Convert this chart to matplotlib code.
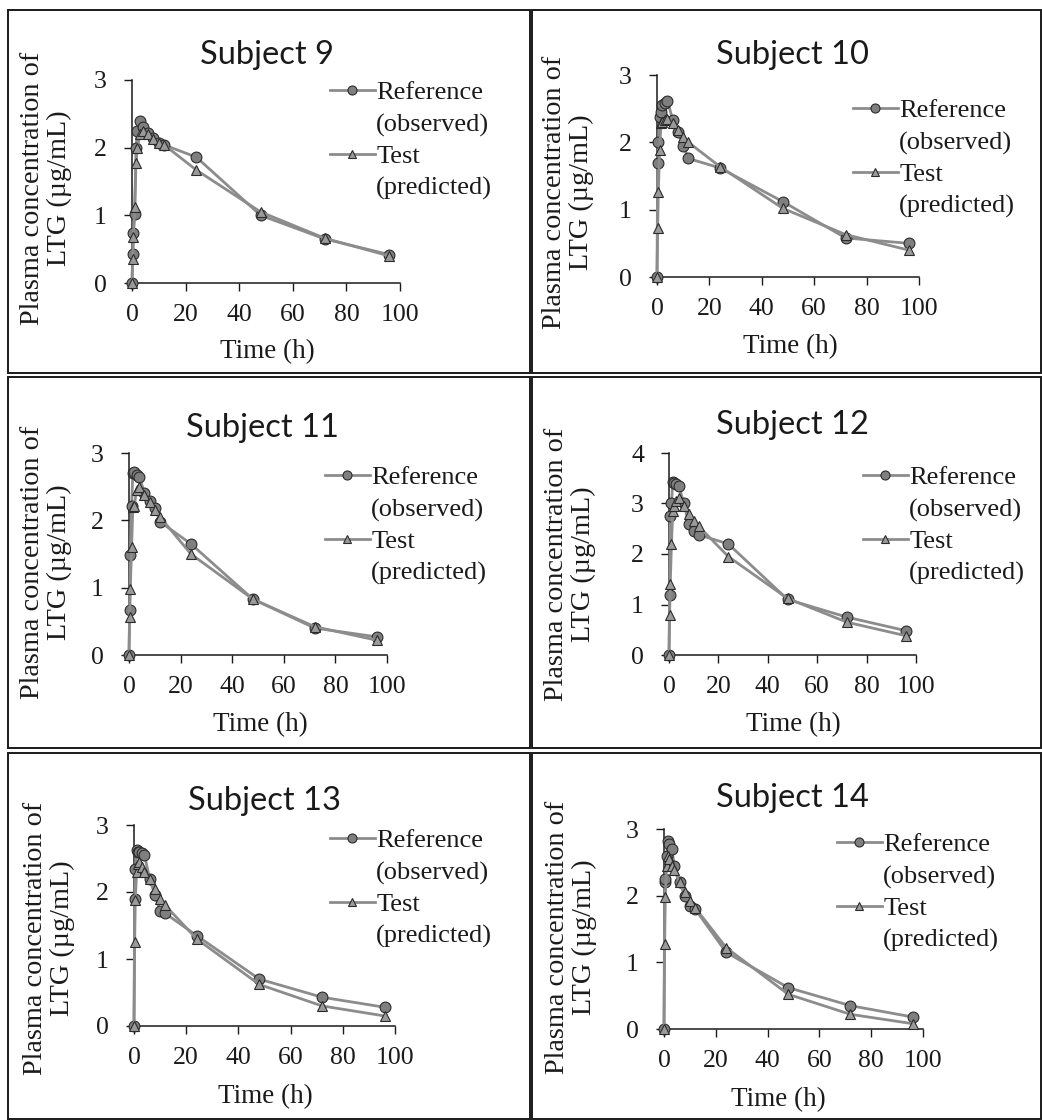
import matplotlib
matplotlib.use("Agg")
import matplotlib.pyplot as plt
from matplotlib.lines import Line2D
from matplotlib.patches import Rectangle

# ---------------- data ----------------
times = [0, 0.25, 0.5, 1, 1.5, 2, 3, 4, 6, 8, 10, 12, 24, 48, 72, 96]

subjects = ["Subject 9", "Subject 10", "Subject 11", "Subject 12", "Subject 13", "Subject 14"]

ref_9 = [0, 0.43, 0.74, 1.02, 2.0, 2.25, 2.4, 2.3, 2.22, 2.15, 2.07, 2.04, 1.86, 1.0, 0.65, 0.42]
test_9 = [0, 0.35, 0.68, 1.12, 1.78, 2.0, 2.2, 2.25, 2.2, 2.13, 2.07, 2.04, 1.67, 1.05, 0.66, 0.4]

ref_10 = [0, 1.7, 2.0, 2.37, 2.45, 2.55, 2.58, 2.62, 2.33, 2.15, 1.95, 1.76, 1.62, 1.12, 0.58, 0.5]
test_10 = [0, 0.73, 1.26, 1.88, 2.28, 2.3, 2.33, 2.35, 2.28, 2.18, 2.08, 2.0, 1.64, 1.02, 0.63, 0.4]

ref_11 = [0, 0.67, 1.48, 2.22, 2.7, 2.72, 2.68, 2.65, 2.4, 2.28, 2.18, 1.98, 1.65, 0.83, 0.4, 0.27]
test_11 = [0, 0.57, 0.98, 1.6, 2.2, 2.22, 2.45, 2.5, 2.38, 2.27, 2.15, 2.05, 1.5, 0.83, 0.42, 0.22]

ref_12 = [0, 1.18, 2.75, 3.0, 3.42, 3.4, 3.38, 3.35, 3.0, 2.6, 2.45, 2.38, 2.2, 1.1, 0.75, 0.48]
test_12 = [0, 0.8, 1.4, 2.2, 2.85, 2.95, 3.05, 3.1, 2.95, 2.8, 2.65, 2.55, 1.95, 1.12, 0.65, 0.38]

ref_13 = [0, 1.9, 2.35, 2.62, 2.6, 2.6, 2.58, 2.55, 2.2, 1.95, 1.72, 1.68, 1.35, 0.7, 0.43, 0.28]
test_13 = [0, 1.25, 1.88, 2.3, 2.42, 2.45, 2.38, 2.3, 2.2, 2.05, 1.9, 1.8, 1.3, 0.62, 0.3, 0.15]

ref_14 = [0, 2.2, 2.25, 2.6, 2.82, 2.78, 2.7, 2.45, 2.2, 2.0, 1.85, 1.8, 1.15, 0.62, 0.35, 0.18]
test_14 = [0, 1.28, 1.98, 2.45, 2.6, 2.55, 2.45, 2.38, 2.2, 2.05, 1.92, 1.82, 1.22, 0.52, 0.22, 0.08]

ref_series = [ref_9, ref_10, ref_11, ref_12, ref_13, ref_14]
test_series = [test_9, test_10, test_11, test_12, test_13, test_14]
y_max = [3, 3, 3, 4, 3, 3]
x_ticks = [0, 20, 40, 60, 80, 100]

ref_label = ["Reference", "(observed)"]
test_label = ["Test", "(predicted)"]
x_label = "Time (h)"
y_label = "Plasma concentration of\nLTG (\u00b5g/mL)"

# ---------------- layout (pixels) ----------------
W, H = 1042, 1120
fig = plt.figure(figsize=(W / 100, H / 100), dpi=100)

def fx(p):
    return p / W

def fy(p):
    return 1 - p / H

# axes box: left, right, top, bottom ; title ; ylabel ; xlabel ; legend (left, first-line y)
layout = [
    dict(ax=(132, 400, 80, 283), title=(267, 55), ylab=(46, 188), xlab=(267, 352), leg=(330, 90)),
    dict(ax=(657, 919, 75, 277), title=(792, 55), ylab=(568, 192), xlab=(790, 347), leg=(853, 108)),
    dict(ax=(129, 387, 453, 655), title=(263, 428), ylab=(46, 562), xlab=(260, 725), leg=(325, 475)),
    dict(ax=(669, 916, 453, 655), title=(792, 425), ylab=(570, 564), xlab=(793, 725), leg=(863, 475)),
    dict(ax=(134, 395, 825, 1026), title=(265, 801), ylab=(49, 938), xlab=(265, 1097), leg=(330, 838)),
    dict(ax=(664, 923, 829, 1029), title=(792, 798), ylab=(571, 937), xlab=(778, 1100), leg=(837, 842)),
]

# panel borders
borders = [(8, 10, 530, 373), (532, 10, 1041, 373),
           (8, 377, 530, 748), (532, 377, 1041, 748),
           (8, 753, 530, 1119), (532, 753, 1041, 1119)]
for (l, t, r, b) in borders:
    fig.add_artist(Rectangle((fx(l), fy(b)), fx(r) - fx(l), fy(t) - fy(b),
                             transform=fig.transFigure, fill=False,
                             edgecolor="#1a1a1a", linewidth=1.4))

SERIF = ["Liberation Serif", "DejaVu Serif"]
SANS = ["Lato", "Liberation Sans", "DejaVu Sans"]
line_col = "#8c8c8c"
edge_col = "#2b2b2b"

for i, L in enumerate(layout):
    l, r, t, b = L["ax"]
    ax = fig.add_axes([fx(l), fy(b), fx(r) - fx(l), fy(t) - fy(b)])
    ax.plot(times, ref_series[i], color=line_col, lw=2.0, marker="o", ms=7.8,
            mfc="#7f7f7f", mec=edge_col, mew=0.8, clip_on=False, zorder=3)
    ax.plot(times, test_series[i], color=line_col, lw=2.0, marker="^", ms=6.5,
            mfc="#9a9a9a", mec=edge_col, mew=0.8, clip_on=False, zorder=4)
    ax.set_xlim(0, 100)
    ax.set_ylim(0, y_max[i])
    ax.set_xticks(x_ticks)
    ax.set_yticks(range(0, y_max[i] + 1))
    for s in ("top", "right"):
        ax.spines[s].set_visible(False)
    for s in ("left", "bottom"):
        ax.spines[s].set_color("#1a1a1a")
        ax.spines[s].set_linewidth(1.1)
    ax.tick_params(axis="both", direction="out", length=6, width=1.0, color="#1a1a1a",
                   labelsize=18.5, labelcolor="#1a1a1a")
    ax.tick_params(axis="y", pad=12)
    ax.tick_params(axis="x", pad=9)
    for lab in ax.get_xticklabels() + ax.get_yticklabels():
        lab.set_family(SERIF)
    ax.patch.set_alpha(0)

    # texts
    fig.text(fx(L["title"][0]), fy(L["title"][1]), subjects[i], family=SANS,
             fontsize=23.5, ha="center", va="center", color="#1a1a1a")
    fig.text(fx(L["ylab"][0]), fy(L["ylab"][1]), y_label, family=SERIF, fontsize=20.3,
             rotation=90, ha="center", va="center", multialignment="center",
             linespacing=1.12, color="#1a1a1a")
    fig.text(fx(L["xlab"][0]), fy(L["xlab"][1]), x_label, family=SERIF, fontsize=19.5,
             ha="center", va="center", color="#1a1a1a")

    # legend
    h_ref = Line2D([], [], color=line_col, lw=2.0, marker="o", ms=6.5,
                   mfc="#7f7f7f", mec=edge_col, mew=0.8)
    h_test = Line2D([], [], color=line_col, lw=2.0, marker="^", ms=5.5,
                    mfc="#9a9a9a", mec=edge_col, mew=0.8)
    blank = Line2D([], [], linestyle="none")
    lx, ly = L["leg"]
    leg = ax.legend([h_ref, blank, h_test, blank],
                    [ref_label[0], ref_label[1], test_label[0], test_label[1]],
                    loc="upper left", bbox_to_anchor=(fx(lx), fy(ly - 9)),
                    bbox_transform=fig.transFigure, frameon=False,
                    borderpad=0, borderaxespad=0, handlelength=1.7,
                    handletextpad=0.05, labelspacing=0.31,
                    prop={"family": SERIF, "size": 19})
    for txt in leg.get_texts():
        txt.set_color("#1a1a1a")

fig.savefig("out.png", dpi=100)
